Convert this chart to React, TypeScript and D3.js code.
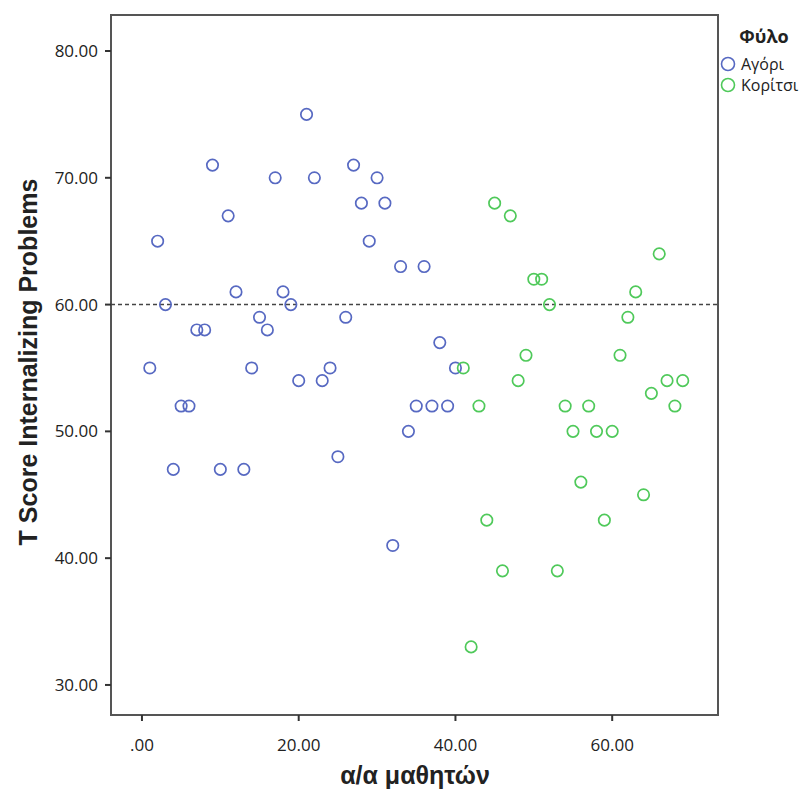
import React from "react";
import * as d3 from "d3";

const boysX = [1,2,3,4,5,6,7,8,9,10,11,12,13,14,15,16,17,18,19,20,21,22,23,24,25,26,27,28,29,30,31,32,33,34,35,36,37,38,39,40];
const boysY = [55,65,60,47,52,52,58,58,71,47,67,61,47,55,59,58,70,61,60,54,75,70,54,55,48,59,71,68,65,70,68,41,63,50,52,63,52,57,52,55];
const girlsX = [41,42,43,44,45,46,47,48,49,50,51,52,53,54,55,56,57,58,59,60,61,62,63,64,65,66,67,68,69];
const girlsY = [55,33,52,43,68,39,67,54,56,62,62,60,39,52,50,46,52,50,43,50,56,59,61,45,53,64,54,52,54];
const xTicks = [0, 20, 40, 60];
const yTicks = [30, 40, 50, 60, 70, 80];
const legendLabels = ["Αγόρι", "Κορίτσι"];
const refLine = 60;

const BLUE = "#5769c2";
const GREEN = "#4fc95a";

export default function App() {
  const left = 111, right = 718, top = 15, bottom = 715;
  const x = d3.scaleLinear().domain([-3.95, 73.5]).range([left, right]);
  const y = d3.scaleLinear().domain([27.63, 82.84]).range([bottom, top]);
  const fmt = (v: number) => (v === 0 ? ".00" : v.toFixed(2));
  const tickFont = "'Open Sans', 'DejaVu Sans', sans-serif";
  const titleFont = "'Liberation Sans', Arial, sans-serif";
  return (
    <svg width={811} height={790} style={{ position: "absolute", left: 0, top: 0 }}>
      <rect x={0} y={0} width={811} height={790} fill="#fff" />
      <rect x={left} y={top} width={right - left} height={bottom - top} fill="none" stroke="#555" strokeWidth={2} />
      {yTicks.map((t) => (
        <g key={"y" + t}>
          <line x1={left - 6} x2={left} y1={y(t)} y2={y(t)} stroke="#333" strokeWidth={2} />
          <text x={left - 13} y={y(t)} dy="0.36em" textAnchor="end" fontFamily={tickFont} fontSize={17} fill="#222">{fmt(t)}</text>
        </g>
      ))}
      {xTicks.map((t) => (
        <g key={"x" + t}>
          <line x1={x(t)} x2={x(t)} y1={bottom} y2={bottom + 6} stroke="#333" strokeWidth={2} />
          <text x={x(t)} y={751} textAnchor="middle" fontFamily={tickFont} fontSize={17} fill="#222">{fmt(t)}</text>
        </g>
      ))}
      <line x1={left} x2={right} y1={y(refLine)} y2={y(refLine)} stroke="#444" strokeWidth={1.5} strokeDasharray="4,3" />
      {boysX.map((v, i) => (
        <circle key={"b" + i} cx={x(v)} cy={y(boysY[i])} r={5.7} fill="none" stroke={BLUE} strokeWidth={1.7} />
      ))}
      {girlsX.map((v, i) => (
        <circle key={"g" + i} cx={x(v)} cy={y(girlsY[i])} r={5.7} fill="none" stroke={GREEN} strokeWidth={1.7} />
      ))}
      <text x={415} y={784} textAnchor="middle" fontFamily={titleFont} fontWeight="bold" fontSize={25} fill="#222">α/α μαθητών</text>
      <text transform={`translate(37,${362}) rotate(-90)`} textAnchor="middle" fontFamily={titleFont} fontWeight="bold" fontSize={25} fill="#222">T Score Internalizing Problems</text>
      <text x={764} y={43} textAnchor="middle" fontFamily={tickFont} fontWeight="bold" fontSize={18} fill="#222">Φύλο</text>
      {legendLabels.map((l, i) => (
        <g key={l}>
          <circle cx={728} cy={64 + i * 21} r={6.5} fill="none" stroke={i === 0 ? BLUE : GREEN} strokeWidth={1.6} />
          <text x={741} y={64 + i * 21} dy="0.36em" fontFamily={tickFont} fontSize={16} fill="#222">{l}</text>
        </g>
      ))}
    </svg>
  );
}
